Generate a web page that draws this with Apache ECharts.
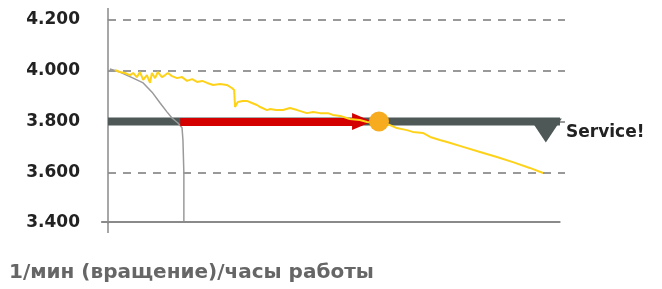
<!DOCTYPE html>
<html>
<head>
<meta charset="utf-8">
<script src="https://cdn.jsdelivr.net/npm/echarts@6/dist/echarts.min.js"></script>
<style>
  html, body { margin: 0; padding: 0; background: #fff; }
  #chart { width: 662px; height: 289px; }
</style>
</head>
<body>
<div id="chart"></div>
<script>
// y: rpm, x: relative operating time (0..100)
const yTicks = [3400, 3600, 3800, 4000, 4200]
const serviceLevel = 3800

// yellow: measured speed
const measuredX = [1.5, 2.6, 3.7, 4.8, 5.5, 6.3, 7.0, 7.7, 8.5, 9.2, 9.6, 10.3, 10.9, 11.8, 12.5, 13.1, 14.0, 15.1, 16.2, 17.3, 18.4, 19.5, 20.6, 21.7, 23.0, 24.5, 26.0, 27.1, 27.6, 27.8, 28.4, 29.5, 30.4, 31.5, 32.6, 33.3, 34.8, 35.4, 36.8, 38.3, 39.8, 41.4, 43.5, 44.9, 46.4, 48.1, 49.2, 50.8, 52.9, 55.1, 56.7, 59.5, 61.7, 63.2, 65.4, 66.7, 68.9, 70.5, 72.6, 74.2, 77.7, 81.4, 85.1, 88.6, 92.3, 95.2]
const measuredY = [4003, 3995, 3991, 3983, 3991, 3975, 3995, 3964, 3983, 3952, 3991, 3971, 3995, 3975, 3983, 3991, 3979, 3971, 3975, 3960, 3967, 3956, 3960, 3952, 3944, 3948, 3944, 3932, 3924, 3857, 3877, 3881, 3881, 3873, 3865, 3857, 3845, 3849, 3845, 3845, 3853, 3845, 3833, 3837, 3833, 3833, 3826, 3822, 3810, 3806, 3798, 3794, 3786, 3774, 3766, 3759, 3755, 3739, 3727, 3719, 3700, 3680, 3660, 3640, 3617, 3597]

// grey: conventional wear
const greyX = [0.4, 2.6, 5.5, 7.7, 9.8, 11.4, 12.9, 14.0, 15.3, 16.2, 16.4, 16.6, 16.6]
const greyY = [4007, 3995, 3971, 3952, 3912, 3873, 3838, 3814, 3794, 3775, 3727, 3597, 3400]

const bandX = [0, 98.9]
const arrowX = [15.8, 55.6]
const meetX = 59.3
const triangleX = 95.8
const baseX = [-1.5, 99.0]

const zip = (xs, ys) => xs.map((x, i) => [x, ys[i]])
const fmt = v => (v / 1000).toFixed(3)
const FONT = 'DejaVu Sans, Verdana, sans-serif'

const chart = echarts.init(document.getElementById('chart'))
chart.setOption({
  animation: false,
  textStyle: { fontFamily: FONT },
  grid: { left: 108, right: 97, top: 20, bottom: 66 },
  xAxis: {
    type: 'value', min: 0, max: 100,
    axisLine: { show: false },
    axisTick: { show: false },
    axisLabel: { show: false },
    splitLine: { show: false }
  },
  yAxis: {
    type: 'value', min: yTicks[0], max: yTicks[yTicks.length - 1], interval: 200,
    axisLine: { show: true, lineStyle: { color: '#8a8a8a', width: 1.5 } },
    axisTick: { show: false },
    axisLabel: { formatter: fmt, color: '#222', fontSize: 17, fontWeight: 'bold', fontFamily: FONT, margin: 28 },
    splitLine: { show: true, showMinLine: false, lineStyle: { color: '#999', width: 2, type: [8, 7] } }
  },
  title: {
    text: '1/мин (вращение)/часы работы', left: 4, top: 258,
    textStyle: { color: '#666', fontSize: 20, fontWeight: 'bold', fontFamily: FONT }
  },
  series: [
    {
      type: 'line', data: zip(bandX, bandX.map(() => serviceLevel)),
      symbol: 'none', lineStyle: { color: '#4d5857', width: 8, cap: 'butt' }, z: 2,
      markPoint: {
        symbol: 'path://M0,0 L30,0 L15,24 Z', symbolSize: [32, 24], symbolOffset: [0, 9],
        itemStyle: { color: '#4d5857' }, label: { show: false },
        data: [{ coord: [triangleX, serviceLevel] }]
      }
    },
    {
      type: 'line', data: zip(greyX, greyY), symbol: 'none', z: 3,
      lineStyle: { color: '#9a9a9a', width: 1.5 }
    },
    {
      type: 'line', data: [], z: 4,
      markLine: {
        silent: true, symbol: ['none', 'triangle'], symbolSize: [17, 20],
        lineStyle: { color: '#d40000', width: 8, type: 'solid', cap: 'butt' }, label: { show: false },
        data: [[{ coord: [arrowX[0], serviceLevel] }, { coord: [arrowX[1], serviceLevel] }]]
      }
    },
    {
      type: 'line', data: zip(measuredX, measuredY), symbol: 'none', z: 5,
      lineStyle: { color: '#ffd21a', width: 2 }
    },
    {
      type: 'scatter', data: [[meetX, serviceLevel]], symbolSize: 20, z: 6,
      itemStyle: { color: '#f7ab1e', opacity: 1 }
    }
  ]
})

// base line of the time axis and the axis cross, placed through the grid's scales
const p0 = chart.convertToPixel({ gridIndex: 0 }, [baseX[0], yTicks[0]])
const p1 = chart.convertToPixel({ gridIndex: 0 }, [baseX[1], yTicks[0]])
const pTop = chart.convertToPixel({ gridIndex: 0 }, [0, yTicks[yTicks.length - 1]])
const pBot = chart.convertToPixel({ gridIndex: 0 }, [0, yTicks[0]])
chart.setOption({
  graphic: [
    {
      type: 'line', z: 100, silent: true,
      shape: { x1: p0[0], y1: p0[1] - 1, x2: p1[0], y2: p1[1] - 1 },
      style: { stroke: '#8a8a8a', lineWidth: 2 }
    },
    {
      type: 'line', z: 100, silent: true,
      shape: { x1: pBot[0], y1: pBot[1], x2: pBot[0], y2: pBot[1] + 10 },
      style: { stroke: '#8a8a8a', lineWidth: 1.5 }
    },
    {
      type: 'line', z: 100, silent: true,
      shape: { x1: pTop[0], y1: pTop[1] - 12, x2: pTop[0], y2: pTop[1] },
      style: { stroke: '#8a8a8a', lineWidth: 1.5 }
    },
    {
      type: 'text', x: 566, y: 133,
      style: { text: 'Service!', fill: '#222', font: 'bold 17px ' + FONT, verticalAlign: 'middle' }
    }
  ]
})
</script>
</body>
</html>
